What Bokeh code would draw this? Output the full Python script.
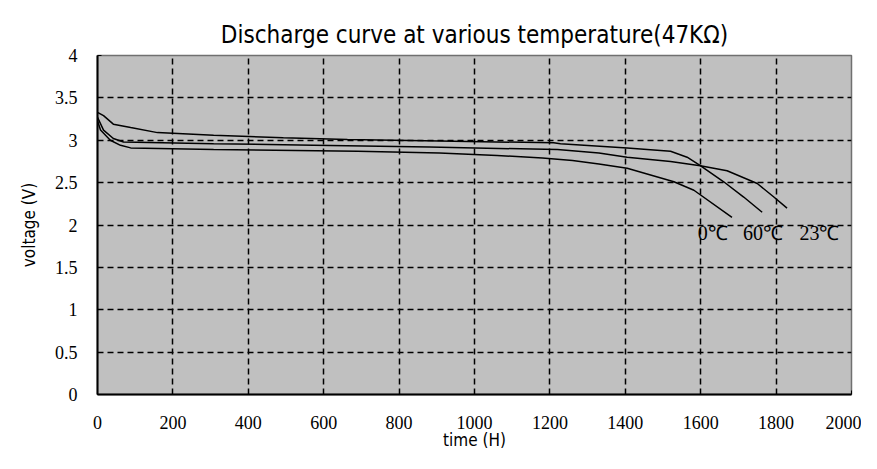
from bokeh.plotting import figure
from bokeh.models import FixedTicker, Range1d
from bokeh.core.properties import value
from bokeh.embed import file_html
from bokeh.resources import INLINE

# ---- data ----
t_60 = [0, 16, 42, 88, 159, 308, 493, 663, 907, 1210, 1228, 1405, 1520, 1564, 1599, 1661, 1714, 1763]
v_60 = [3.33, 3.29, 3.19, 3.15, 3.09, 3.06, 3.03, 3.01, 2.99, 2.97, 2.96, 2.91, 2.87, 2.80, 2.70, 2.51, 2.33, 2.15]

t_23 = [0, 16, 42, 69, 308, 573, 880, 1220, 1330, 1405, 1520, 1599, 1670, 1750, 1794, 1829]
v_23 = [3.27, 3.12, 3.02, 2.98, 2.96, 2.94, 2.92, 2.89, 2.85, 2.80, 2.75, 2.70, 2.64, 2.49, 2.33, 2.20]

t_0 = [0, 8, 34, 61, 88, 308, 690, 907, 1060, 1180, 1260, 1330, 1405, 1529, 1582, 1683]
v_0 = [3.23, 3.12, 3.00, 2.94, 2.91, 2.89, 2.87, 2.85, 2.82, 2.79, 2.76, 2.72, 2.67, 2.51, 2.41, 2.09]

label_text = ["0\u2103", "60\u2103", "23\u2103"]
label_x = [1592, 1712, 1862]
label_y = [1.90, 1.90, 1.90]

x_ticks = [0, 200, 400, 600, 800, 1000, 1200, 1400, 1600, 1800, 2000]
x_tick_labels = ["0", "200", "400", "600", "800", "1000", "1200", "1400", "1600", "1800", "2000"]
y_ticks = [0, 0.5, 1, 1.5, 2, 2.5, 3, 3.5, 4]
y_tick_labels = ["0", "0.5", "1", "1.5", "2", "2.5", "3", "3.5", "4"]

title_text = "Discharge curve at various temperature(47K\u03a9)"
x_label = "time (H)"
y_label = "voltage (V)"

NARROW = "'Liberation Sans Narrow', 'DejaVu Sans Condensed', sans-serif"
SERIF = "'Liberation Serif', serif"

p = figure(width=861, height=453, output_backend="svg", toolbar_location=None,
           x_range=Range1d(0, 2000), y_range=Range1d(0, 4),
           min_border_left=97, min_border_right=10, min_border_top=55, min_border_bottom=59,
           title=title_text)

p.title.text_font = NARROW
p.title.text_font_size = "24px"
p.title.text_font_style = "normal"
p.title.align = "center"
p.title.vertical_align = "top"
p.title.text_color = "black"
p.title.standoff = 10

p.background_fill_color = "#c0c0c0"
p.border_fill_color = "white"
p.outline_line_color = "#707070"
p.outline_line_width = 1.5

for ax in (p.xaxis[0], p.yaxis[0]):
    ax.axis_line_color = "black"
    ax.axis_line_width = 2
    ax.major_tick_in = 4
    ax.major_tick_out = 0
    ax.minor_tick_line_color = None
    ax.major_label_text_font = SERIF
    ax.major_label_text_font_size = "18px"
    ax.major_label_text_color = "black"
    ax.axis_label_text_font = NARROW
    ax.axis_label_text_font_size = "17px"
    ax.axis_label_text_font_style = "normal"
    ax.axis_label_text_color = "black"

p.xaxis.ticker = FixedTicker(ticks=x_ticks)
p.xaxis.major_label_overrides = {t: l for t, l in zip(x_ticks, x_tick_labels)}
p.yaxis.ticker = FixedTicker(ticks=y_ticks)
p.yaxis.major_label_overrides = {t: l for t, l in zip(y_ticks, y_tick_labels)}
p.xaxis.axis_label = x_label
p.yaxis.axis_label = y_label
p.xaxis.major_label_standoff = 21
p.xaxis.axis_label_standoff = -2
p.yaxis.major_label_standoff = 20
p.yaxis.axis_label_standoff = 13

p.grid.grid_line_color = "black"
p.grid.grid_line_dash = "6 4"
p.grid.grid_line_width = 1.5

for t, v in ((t_60, v_60), (t_23, v_23), (t_0, v_0)):
    p.line(t, v, line_color="black", line_width=1.5)

p.text(x=label_x, y=label_y, text=label_text, text_font=value("Liberation Serif"),
       text_font_size="20px", text_baseline="middle", text_align="left", text_color="black")

open("out.html", "w").write(file_html(p, INLINE))
